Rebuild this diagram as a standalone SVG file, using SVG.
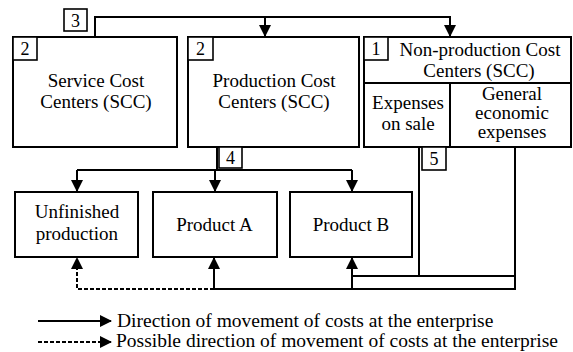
<svg xmlns="http://www.w3.org/2000/svg" width="573" height="352" viewBox="0 0 573 352">
<defs>
<marker id="ah" markerUnits="userSpaceOnUse" markerWidth="12" markerHeight="12" viewBox="0 0 12 12" refX="11" refY="6" orient="auto">
<path d="M0,0 L12,6 L0,12 Z" fill="#000"/>
</marker>
</defs>
<style>
.box{fill:#fff;stroke:#000;stroke-width:2}
.lbl{fill:#fff;stroke:#000;stroke-width:1.6}
.t{font-size:19px;fill:#000}
.n{font-size:18px;fill:#000}
.lg{font-size:19.5px;fill:#000}
.c{fill:none;stroke:#000;stroke-width:2}
.d{fill:none;stroke:#000;stroke-width:2;stroke-dasharray:4,2}
</style>
<rect width="573" height="352" fill="#fff"/>
<g id="connectors">
<path class="c" d="M95,37 V17 H450 V36" marker-end="url(#ah)"/>
<path class="c" d="M265,17 V36" marker-end="url(#ah)"/>
<path class="c" d="M217,147 V170"/>
<path class="c" d="M77,170 H352"/>
<path class="c" d="M77,170 V191" marker-end="url(#ah)"/>
<path class="c" d="M215,170 V191" marker-end="url(#ah)"/>
<path class="c" d="M352,170 V191" marker-end="url(#ah)"/>
<path class="c" d="M419,147 V276 H515"/>
<path class="c" d="M515,147 V289 H214 V258" marker-end="url(#ah)"/>
<path class="c" d="M352,289 V258" marker-end="url(#ah)"/>
<path class="c" d="M352,276 H420"/>
<path class="d" d="M214,289 H77 V258" marker-end="url(#ah)"/>
</g>
<g font-family="Liberation Serif">
<g id="n3"><rect class="lbl" x="64" y="9" width="23" height="22"/><text class="n" x="71" y="27">3</text></g>
<g id="service">
<rect class="box" x="13" y="37" width="164" height="110"/>
<rect class="lbl" x="13" y="37" width="24" height="23"/><text class="n" x="20.5" y="55">2</text>
<text class="t" x="47.7" y="87">Service Cost</text>
<text class="t" x="40.3" y="108">Centers (SCC)</text>
</g>
<g id="production">
<rect class="box" x="188" y="37" width="171" height="110"/>
<rect class="lbl" x="188" y="37" width="25" height="23"/><text class="n" x="196" y="55">2</text>
<text class="t" x="212.5" y="87">Production Cost</text>
<text class="t" x="218.3" y="108">Centers (SCC)</text>
</g>
<g id="nonproduction">
<rect class="box" x="364" y="37" width="207" height="110"/>
<rect class="lbl" x="364" y="37" width="24" height="23"/><text class="n" x="371.5" y="55">1</text>
<text class="t" x="399.5" y="56">Non-production Cost</text>
<text class="t" x="423.3" y="77">Centers (SCC)</text>
<path class="c" d="M364,83 H571 M450,83 V147"/>
<text class="t" x="372.1" y="109">Expenses</text>
<text class="t" x="381.4" y="130">on sale</text>
<text class="t" x="481.9" y="100">General</text>
<text class="t" x="475.1" y="119">economic</text>
<text class="t" x="477.7" y="138">expenses</text>
</g>
<g id="n4"><rect class="lbl" x="219" y="147" width="23" height="21"/><text class="n" x="226" y="164">4</text></g>
<g id="n5"><rect class="lbl" x="422" y="147" width="24" height="23"/><text class="n" x="429.5" y="165">5</text></g>
<g id="unfinished">
<rect class="box" x="15" y="192" width="123" height="65"/>
<text class="t" x="34.8" y="218">Unfinished</text>
<text class="t" x="35.8" y="240">production</text>
</g>
<g id="productA">
<rect class="box" x="153" y="192" width="124" height="65"/>
<text class="t" x="176.2" y="231">Product A</text>
</g>
<g id="productB">
<rect class="box" x="290" y="192" width="122" height="65"/>
<text class="t" x="312.7" y="231">Product B</text>
</g>
<g id="legend">
<path class="c" d="M38,321 H111" marker-end="url(#ah)"/>
<path class="d" d="M38,342 H111" marker-end="url(#ah)"/>
<text class="lg" x="117" y="327">Direction of movement of costs at the enterprise</text>
<text class="lg" x="116" y="347">Possible direction of movement of costs at the enterprise</text>
</g>
</g>
</svg>
